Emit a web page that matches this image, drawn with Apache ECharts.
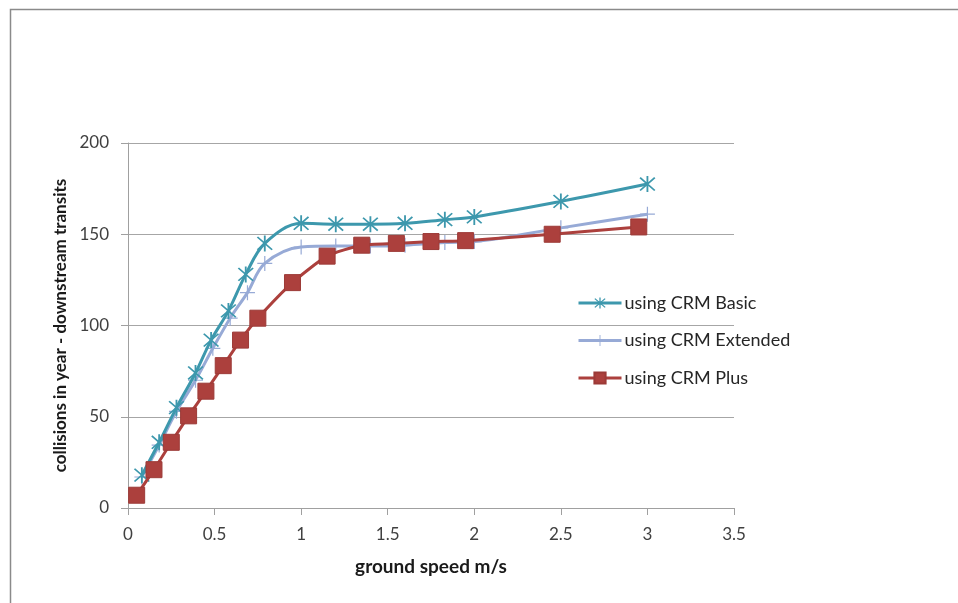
<!DOCTYPE html>
<html>
<head>
<meta charset="utf-8">
<script src="https://cdn.jsdelivr.net/npm/echarts@6/dist/echarts.min.js"></script>
<style>
  html, body { margin: 0; padding: 0; background: #fff; }
  #chart { width: 958px; height: 603px; }
</style>
</head>
<body>
<div id="chart"></div>
<script>
// Ground speed (m/s) at which each model was evaluated
var speedBasic = [0.08, 0.18, 0.28, 0.39, 0.48, 0.58, 0.68, 0.79, 1.0, 1.2, 1.4, 1.6, 1.83, 2.0, 2.5, 3.0];
var speedExtended = [0.08, 0.18, 0.28, 0.39, 0.49, 0.59, 0.69, 0.79, 1.0, 1.2, 1.4, 1.6, 1.83, 2.0, 2.5, 3.0];
var speedPlus = [0.05, 0.15, 0.25, 0.35, 0.45, 0.55, 0.65, 0.75, 0.95, 1.15, 1.35, 1.55, 1.75, 1.95, 2.45, 2.95];

// Collisions in year - downstream transits
var collisionsBasic = [18, 36, 55, 74, 92, 108, 128, 145, 156, 155.5, 155.5, 156, 158, 159.5, 168, 177.5];
var collisionsExtended = [17, 34.5, 53, 70, 87.5, 104, 118, 134, 143, 143.5, 143.5, 144, 145.5, 146, 153.5, 161];
var collisionsPlus = [7, 21, 36, 50.5, 64, 78, 92, 104, 123.5, 138, 144, 145, 146, 146.5, 150, 154];

var seriesNames = ['using CRM Basic', 'using CRM Extended', 'using CRM Plus'];
var xTicks = { min: 0, max: 3.5, interval: 0.5 };
var yTicks = { min: 0, max: 200, interval: 50 };

function pairs(xs, ys) {
  return xs.map(function (x, i) { return [x, ys[i]]; });
}

// Marker shapes: six-armed asterisk and a thin cross
var asterisk = 'path://M9 0L11 0L11 20L9 20Z' +
  'M1.3 2.7L2.7 1.3L18.7 17.3L17.3 18.7Z' +
  'M17.3 1.3L18.7 2.7L2.7 18.7L1.3 17.3Z';
var cross = 'path://M9.2 0L10.8 0L10.8 20L9.2 20Z M0 9.2L20 9.2L20 10.8L0 10.8Z';

var font = 'Lato, "Open Sans", sans-serif';
var textColor = '#404040';

var chart = echarts.init(document.getElementById('chart'));
chart.setOption({
  animation: false,
  backgroundColor: '#ffffff',
  graphic: [{
    type: 'polyline',
    shape: { points: [[10.5, 603], [10.5, 9.5], [958, 9.5]] },
    style: { stroke: '#8a8a8a', lineWidth: 1.5, fill: null },
    silent: true
  }],
  grid: { left: 128, right: 224, top: 143, bottom: 95 },
  legend: {
    orient: 'vertical',
    left: 577,
    top: 292,
    padding: 0,
    itemWidth: 43,
    itemHeight: 14,
    itemGap: 15.5,
    data: seriesNames,
    lineStyle: { width: 3 },
    textStyle: { fontFamily: font, fontSize: 18, color: '#262626', lineHeight: 22, padding: [0, 0, 0, -2] }
  },
  xAxis: {
    type: 'value',
    min: xTicks.min, max: xTicks.max, interval: xTicks.interval,
    name: 'ground speed m/s',
    nameLocation: 'middle',
    nameGap: 49,
    nameTextStyle: { fontFamily: font, fontSize: 19, fontWeight: 'bold', color: '#1a1a1a' },
    axisLine: { show: true, lineStyle: { color: '#a0a0a0', width: 1 } },
    axisTick: { show: true, length: 7, lineStyle: { color: '#a0a0a0' } },
    axisLabel: { fontFamily: font, fontSize: 17, color: textColor, margin: 18 },
    splitLine: { show: false }
  },
  yAxis: {
    type: 'value',
    min: yTicks.min, max: yTicks.max, interval: yTicks.interval,
    name: 'collisions in year - downstream transits',
    nameLocation: 'middle',
    nameGap: 57,
    nameRotate: 90,
    nameTextStyle: { fontFamily: font, fontSize: 17, fontWeight: 'bold', color: '#1a1a1a' },
    axisLine: { show: true, lineStyle: { color: '#a0a0a0', width: 1 } },
    axisTick: { show: true, length: 7, lineStyle: { color: '#a0a0a0' } },
    axisLabel: { fontFamily: font, fontSize: 17, color: textColor, margin: 19 },
    splitLine: { show: true, lineStyle: { color: '#a6a6a6', width: 1 } }
  },
  series: [{
    name: seriesNames[0],
    type: 'line',
    smooth: 0.35,
    data: pairs(speedBasic, collisionsBasic),
    symbol: asterisk,
    symbolSize: 16,
    lineStyle: { color: '#3d98ad', width: 3 },
    itemStyle: { color: '#3d98ad' },
    z: 3
  }, {
    name: seriesNames[1],
    type: 'line',
    smooth: 0.35,
    data: pairs(speedExtended, collisionsExtended),
    symbol: cross,
    symbolSize: 15,
    lineStyle: { color: '#97aad6', width: 3 },
    itemStyle: { color: '#97aad6' },
    z: 2
  }, {
    name: seriesNames[2],
    type: 'line',
    smooth: 0.2,
    data: pairs(speedPlus, collisionsPlus),
    symbol: 'rect',
    symbolSize: 16,
    lineStyle: { color: '#ac403d', width: 3 },
    itemStyle: { color: '#ac403d', borderColor: '#9c3a37', borderWidth: 1 },
    z: 4
  }]
});
</script>
</body>
</html>
